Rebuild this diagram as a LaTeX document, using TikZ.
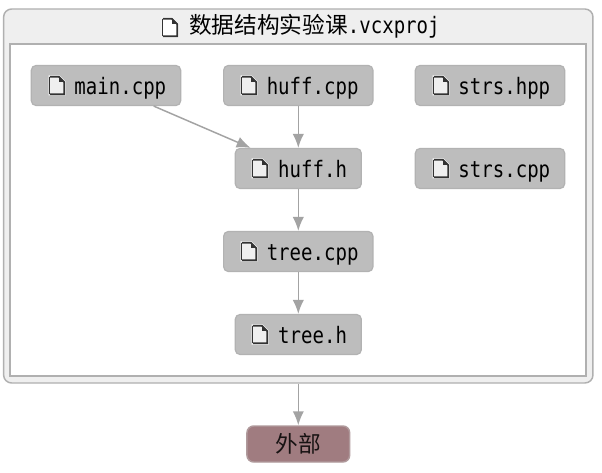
\documentclass[tikz,border=0pt]{standalone}
\usepackage{fontspec}
\setmainfont[FakeStretch=0.84]{DejaVu Sans Mono}
\newfontfamily\cjk{Noto Sans CJK SC}
\usetikzlibrary{arrows.meta}
\definecolor{boxfill}{HTML}{BDBDBD}
\definecolor{boxline}{HTML}{B2B2B2}
\definecolor{linkcol}{HTML}{A3A3A3}
\definecolor{outerfill}{HTML}{EFEFEF}
\definecolor{outerline}{HTML}{B0B0B0}
\definecolor{extfill}{HTML}{A07C80}
\definecolor{extline}{HTML}{B09A9C}
\definecolor{icondark}{HTML}{333333}
\newcommand{\filelabel}[1]{\hspace{21.5pt}\raisebox{-6.5pt}[0pt][0pt]{#1}}
\tikzset{
  filebox/.style={draw=boxline,fill=boxfill,line width=0.9pt,rounded corners=3.5pt,
    minimum height=30pt,inner sep=0pt,font=\fontsize{17}{19}\selectfont,text=black},
  widebox/.style={filebox,minimum width=112pt},
  narrowbox/.style={filebox,minimum width=94.5pt},
  link/.style={draw=linkcol,line width=1.1pt,-{Latex[length=10.5pt,width=8.5pt]}},
  pics/fileicon/.style={code={
    \fill[white] (-0.5,-0.5) -- (10.5,-0.5) -- (16.5,5.5) -- (16.5,19.5) -- (-0.5,19.5) -- cycle;
    \fill[#1] (1,1) -- (10,1) -- (15,6) -- (15,18) -- (1,18) -- cycle;
    \draw[icondark,line width=1.3pt,line join=miter] (0.8,0.8) -- (10,0.8) -- (15.2,6) -- (15.2,18.2) -- (0.8,18.2);
    \draw[icondark,line width=0.7pt] (0.8,0.8) -- (0.8,18.2);
    \fill[icondark] (10,1) -- (10,6) -- (15,6) -- cycle;
  }}
}
\begin{document}
\begin{tikzpicture}[x=0.75pt,y=-0.75pt]
\useasboundingbox (0,0) rectangle (602,473);
\fill[white] (0,0) rectangle (602,473);
\node[draw=outerline,fill=outerfill,line width=1.1pt,rounded corners=6pt,minimum width=442pt,minimum height=280.5pt,inner sep=0pt] (outer) at (298.3,196) {};
\node[draw=outerline,fill=white,line width=0.8pt,minimum width=432pt,minimum height=249pt,inner sep=0pt] (inner) at (298,210) {};
\node[font=\fontsize{17}{19}\selectfont,inner sep=0pt,anchor=base west] (title) at (189,33.7) {{\cjk 数据结构实验课}.vcxproj};
\node[widebox] (main) at (106,85.5) {\filelabel{main.cpp}};
\node[widebox] (huffc) at (298.3,85.5) {\filelabel{huff.cpp}};
\node[widebox] (strsh) at (490,85.5) {\filelabel{strs.hpp}};
\node[narrowbox] (huffh) at (298.3,168.5) {\filelabel{huff.h}};
\node[widebox] (strsc) at (490,168.5) {\filelabel{strs.cpp}};
\node[widebox] (treec) at (298.3,251.5) {\filelabel{tree.cpp}};
\node[narrowbox] (treeh) at (298.3,334.5) {\filelabel{tree.h}};
\node[draw=extline,fill=extfill,line width=1.1pt,rounded corners=5pt,minimum width=77pt,minimum height=27pt,inner sep=0pt,font=\cjk\fontsize{17}{19}\selectfont,text=black!85!extfill] (ext) at (298.3,444) {外部};
\pic at (162,18) {fileicon=white};
\pic at (49,76) {fileicon=outerfill};
\pic at (241,76) {fileicon=outerfill};
\pic at (433,76) {fileicon=outerfill};
\pic at (252,159) {fileicon=outerfill};
\pic at (433,159) {fileicon=outerfill};
\pic at (241,242) {fileicon=outerfill};
\pic at (252,325) {fileicon=outerfill};
\draw[link] (main) -- (huffh);
\draw[link] (huffc) -- (huffh);
\draw[link] (huffh) -- (treec);
\draw[link] (treec) -- (treeh);
\draw[link] (outer) -- (ext);
\end{tikzpicture}
\end{document}
